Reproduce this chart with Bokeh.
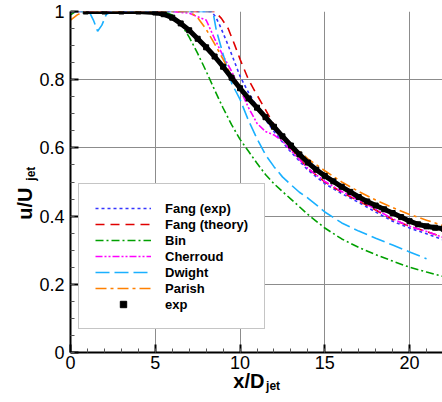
import math
from bokeh.plotting import figure
from bokeh.models import (Range1d, FixedTicker, CustomJSTickFormatter, Legend, LegendItem, LinearAxis)
from bokeh.embed import file_html
from bokeh.resources import INLINE

# ---------------- data ----------------
fang_exp_x = [0, 8.3, 8.55, 8.8, 9.2, 9.6, 10, 10.5, 11, 11.5, 12, 12.5, 13, 14, 15, 16, 17, 18, 19, 20, 21, 22]
fang_exp_y = [1.0, 1.0, 0.985, 0.96, 0.913, 0.862, 0.81, 0.762, 0.72, 0.683, 0.648, 0.617, 0.588, 0.535, 0.495, 0.466, 0.44, 0.412, 0.385, 0.365, 0.348, 0.33]

fang_th_x = [0, 8.5, 8.9, 9.3, 9.7, 10.0, 10.5, 11, 11.5, 12, 12.5, 13, 14, 15, 16, 17, 18, 19, 20, 21, 22]
fang_th_y = [1.0, 1.0, 0.98, 0.95, 0.9, 0.86, 0.8, 0.755, 0.712, 0.668, 0.633, 0.598, 0.54, 0.5, 0.47, 0.444, 0.418, 0.39, 0.37, 0.355, 0.338]

bin_x = [0, 0.3, 5.5, 6, 6.5, 7, 7.5, 8, 8.5, 9, 9.5, 10, 10.5, 11, 11.5, 12, 12.5, 13, 14, 15, 16, 17, 18, 19, 20, 21, 22]
bin_y = [0.99, 1.0, 1.0, 0.99, 0.965, 0.925, 0.877, 0.825, 0.77, 0.717, 0.668, 0.625, 0.59, 0.555, 0.522, 0.495, 0.472, 0.45, 0.405, 0.365, 0.333, 0.308, 0.287, 0.268, 0.25, 0.236, 0.223]

cherroud_x = [0, 6, 7, 8, 8.5, 9, 9.5, 10, 10.5, 11, 11.5, 12, 12.5, 13, 14, 15, 16, 17, 18, 19, 20, 21, 22]
cherroud_y = [1.0, 1.0, 0.995, 0.975, 0.92, 0.87, 0.825, 0.772, 0.718, 0.672, 0.648, 0.638, 0.62, 0.592, 0.54, 0.502, 0.472, 0.447, 0.42, 0.392, 0.37, 0.355, 0.337]

dwight_x = [0, 1.1, 1.35, 1.6, 1.85, 2.1, 2.4, 8.4, 8.6, 9, 9.5, 10, 10.5, 11, 11.5, 12, 12.5, 13, 13.5, 14, 14.5, 15, 16, 17, 18, 19, 20, 21]
dwight_y = [1.0, 1.0, 0.975, 0.942, 0.96, 0.99, 1.0, 1.0, 0.945, 0.875, 0.79, 0.742, 0.68, 0.627, 0.58, 0.545, 0.515, 0.492, 0.47, 0.453, 0.433, 0.412, 0.38, 0.356, 0.335, 0.315, 0.295, 0.275]

parish_x = [0, 0.4, 0.8, 7, 7.5, 8, 8.5, 9, 9.5, 10, 10.5, 11, 11.5, 12, 12.5, 13, 13.5, 14, 15, 16, 17, 18, 19, 20, 21, 22]
parish_y = [0.975, 0.99, 1.0, 1.0, 0.982, 0.948, 0.905, 0.86, 0.81, 0.775, 0.745, 0.715, 0.685, 0.657, 0.632, 0.61, 0.59, 0.568, 0.533, 0.5, 0.472, 0.447, 0.425, 0.405, 0.388, 0.372]

exp_x = [0.9, 2, 3, 4, 5, 5.5, 6, 6.5, 7, 7.5, 8, 8.5, 9, 9.5, 10, 10.5, 11, 11.5, 12, 12.5, 13, 13.5, 14, 14.5,
         15, 15.5, 16, 16.5, 17, 17.5, 18, 18.5, 19, 19.5, 20, 20.5, 21, 21.5, 22]
exp_y = [1.0, 1.0, 1.0, 1.0, 0.997, 0.992, 0.982, 0.965, 0.945, 0.92, 0.895, 0.868, 0.838, 0.806, 0.775, 0.745, 0.718, 0.69,
         0.662, 0.634, 0.607, 0.581, 0.557, 0.536, 0.518, 0.502, 0.486, 0.471, 0.456, 0.443, 0.431, 0.42, 0.409, 0.397,
         0.385, 0.376, 0.37, 0.366, 0.363]

x_major = [0, 5, 10, 15, 20]
y_major = [0, 0.2, 0.4, 0.6, 0.8, 1.0]

x_title, x_title_sub = "x/D", "jet"
y_title, y_title_sub = "u/U", "jet"

# ---------------- figure ----------------
FONT = "Liberation Sans"
p = figure(frame_width=373, frame_height=341,
           x_range=Range1d(0, 22), y_range=Range1d(0, 1),
           output_backend="svg", toolbar_location=None,
           min_border_left=69, min_border_right=0, min_border_top=11, min_border_bottom=50)
p.outline_line_color = None
p.background_fill_color = "white"
p.border_fill_color = "white"

p.xaxis.ticker = FixedTicker(ticks=x_major, minor_ticks=list(range(0, 23)))
p.yaxis.ticker = FixedTicker(ticks=y_major, minor_ticks=[round(0.05 * i, 2) for i in range(21)])
p.yaxis.formatter = CustomJSTickFormatter(code="return String(Math.round(tick*10)/10);")

for ax in (p.xaxis[0], p.yaxis[0]):
    ax.axis_line_width = 2
    ax.axis_line_color = "black"
    ax.major_tick_in = 8
    ax.major_tick_out = 0
    ax.major_tick_line_width = 2
    ax.minor_tick_in = 4
    ax.minor_tick_out = 0
    ax.minor_tick_line_color = "#555555"
    ax.major_label_text_font = FONT
    ax.major_label_text_font_size = "18px"
    ax.major_label_text_color = "black"
p.xaxis.major_label_standoff = 3
p.yaxis.major_label_standoff = 6


def title_axis(loc, value, text, size, standoff, orientation="horizontal"):
    ax = LinearAxis(ticker=FixedTicker(ticks=[value], minor_ticks=[]),
                    formatter=CustomJSTickFormatter(code="return %r;" % text))
    ax.axis_line_color = None
    ax.major_tick_line_color = None
    ax.minor_tick_line_color = None
    ax.major_tick_in = 0
    ax.major_tick_out = 0
    ax.major_label_standoff = standoff
    ax.major_label_orientation = orientation
    ax.major_label_text_font = FONT
    ax.major_label_text_font_size = size
    ax.major_label_text_font_style = "bold"
    ax.major_label_text_color = "black"
    p.add_layout(ax, loc)
    return ax


# axis titles (as labels of helper axes, positioned along the data axes)
title_axis("below", 10.52, x_title, "20px", -2)
title_axis("below", 11.95, x_title_sub, "12px", -16)
title_axis("left", 0.545, y_title_sub, "12px", 5, math.pi / 2)
title_axis("left", 0.484, y_title, "20px", -11, math.pi / 2)

p.xgrid.grid_line_color = "#8c8c8c"
p.ygrid.grid_line_color = "#8c8c8c"
p.xgrid.grid_line_width = 1
p.ygrid.grid_line_width = 1

W = 1.6
r1 = p.line(fang_exp_x, fang_exp_y, line_color="#3535ff", line_width=W, line_dash="3 3")
r2 = p.line(fang_th_x, fang_th_y, line_color="#e00000", line_width=W, line_dash="9 6")
r3 = p.line(bin_x, bin_y, line_color="#00a000", line_width=W, line_dash="8 3 2 3")
r4 = p.line(cherroud_x, cherroud_y, line_color="#ff00ff", line_width=W, line_dash="7 2 2 2 2 2")
r5 = p.line(dwight_x, dwight_y, line_color="#1ab0ff", line_width=W, line_dash="14 5")
r6 = p.line(parish_x, parish_y, line_color="#ff8000", line_width=W, line_dash="11 4 3 4")
p.line(exp_x, exp_y, line_color="black", line_width=5)
r7 = p.scatter(exp_x, exp_y, marker="square", size=5, fill_color="black", line_color="black")

legend = Legend(items=[
    LegendItem(label="Fang (exp)", renderers=[r1]),
    LegendItem(label="Fang (theory)", renderers=[r2]),
    LegendItem(label="Bin", renderers=[r3]),
    LegendItem(label="Cherroud", renderers=[r4]),
    LegendItem(label="Dwight", renderers=[r5]),
    LegendItem(label="Parish", renderers=[r6]),
    LegendItem(label="exp", renderers=[r7]),
], location=(8, 23))
legend.margin = 0
legend.padding = 16
legend.spacing = 0
legend.glyph_width = 56
legend.glyph_height = 16
legend.label_height = 16
legend.label_standoff = 14
legend.label_text_font = FONT
legend.label_text_font_size = "13px"
legend.label_text_font_style = "bold"
legend.label_text_color = "black"
legend.border_line_color = "#8c8c8c"
legend.border_line_width = 1
legend.background_fill_color = "white"
legend.background_fill_alpha = 1.0
p.add_layout(legend, "center")

open("out.html", "w").write(file_html(p, INLINE))
